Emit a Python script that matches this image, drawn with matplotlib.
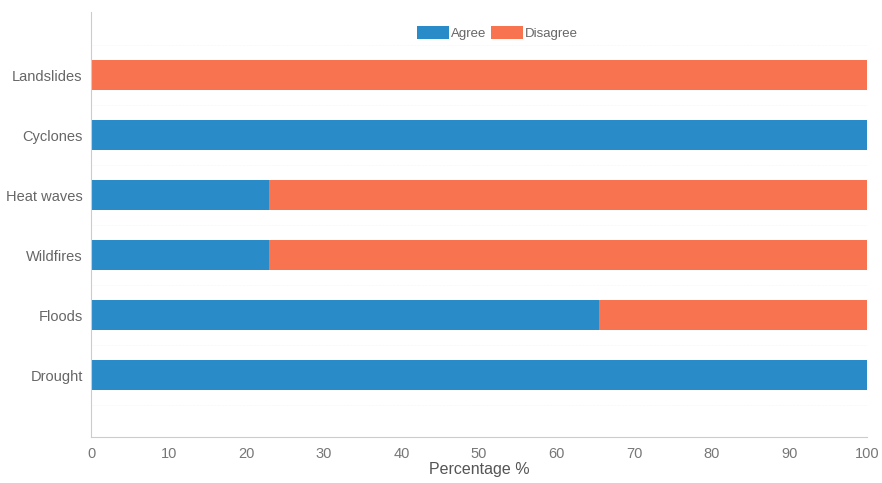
import matplotlib.pyplot as plt
import numpy as np

plt.rcParams["font.family"] = ["Liberation Sans", "DejaVu Sans"]

hazards = ["Drought", "Floods", "Wildfires", "Heat waves", "Cyclones", "Landslides"]
agree = [100, 65.4, 23, 23, 100, 0]
disagree = [0, 34.6, 77, 77, 0, 100]

blue = "#2a8bc9"
orange = "#f8734f"
grey = "#666666"

fig = plt.figure(figsize=(8.82, 4.83), dpi=100)
ax = fig.add_axes([0.1032, 0.0952, 0.8798, 0.8799])

y = np.arange(len(hazards))
ax.barh(y, agree, height=0.5, color=blue, label="Agree")
ax.barh(y, disagree, left=agree, height=0.5, color=orange, label="Disagree")

ax.set_xlim(0, 100)
ax.set_ylim(-1.03, 6.05)
ax.set_xticks(np.arange(0, 101, 10))
ax.set_yticks(y)
ax.set_yticklabels(hazards)
ax.tick_params(axis="both", length=0, labelsize=10.5, colors=grey)
ax.tick_params(axis="x", pad=7, colors="#777777")
ax.tick_params(axis="y", pad=6)
ax.set_xlabel("Percentage %", fontsize=11.5, color="#555555", labelpad=1)

for side in ["top", "right"]:
    ax.spines[side].set_visible(False)
for side in ["left", "bottom"]:
    ax.spines[side].set_color("#cccccc")
    ax.spines[side].set_linestyle((0, (1, 1)))
    ax.spines[side].set_linewidth(0.8)

# faint separators between the rows
for yy in np.arange(-0.5, len(hazards), 1.0):
    ax.axhline(yy, color="#f4f4f4", lw=0.5, ls=(0, (1, 1)), zorder=0)

ax.legend(loc="upper center", bbox_to_anchor=(0.524, 0.995), ncol=2,
          frameon=False, fontsize=9.5, handlelength=2.4, handleheight=1.1,
          handletextpad=0.15, columnspacing=0.4, labelcolor=grey)

fig.savefig("out.png", dpi=100)
